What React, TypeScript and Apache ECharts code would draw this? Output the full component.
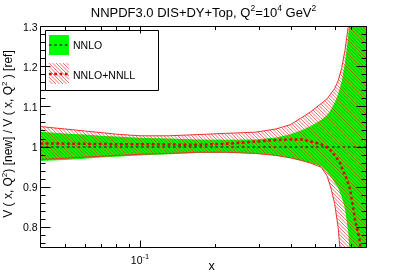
import React, { useEffect, useRef } from 'react';
import * as echarts from 'echarts';

const FONT = "'Liberation Sans', Arial, Helvetica, sans-serif";

// axis ranges
const xRange = [0.04, 0.805];
const yRange = [0.75, 1.3];

// NNLO band (green)
const nnloX = [0.04, 0.05, 0.06, 0.07, 0.08, 0.1, 0.13, 0.17, 0.22, 0.29, 0.35, 0.4, 0.44, 0.48, 0.53, 0.56, 0.58, 0.6, 0.62, 0.64, 0.66, 0.68, 0.7, 0.72, 0.75, 0.805];
const nnloHigh = [1.038, 1.034, 1.031, 1.028, 1.026, 1.023, 1.021, 1.019, 1.018, 1.019, 1.024, 1.032, 1.041, 1.052, 1.067, 1.08, 1.093, 1.11, 1.132, 1.162, 1.21, 1.275, 1.36, 1.45, 1.6, 1.8];
const nnloLow = [0.965, 0.968, 0.971, 0.974, 0.976, 0.979, 0.982, 0.985, 0.986, 0.984, 0.979, 0.973, 0.966, 0.961, 0.952, 0.938, 0.925, 0.912, 0.898, 0.877, 0.847, 0.79, 0.66, 0.55, 0.45, 0.3];
const nnloCentralX = [0.04, 0.805];
const nnloCentral = [1, 1];

// NNLO+NNLL band (red hatched)
const nnllX = [0.04, 0.05, 0.06, 0.07, 0.08, 0.1, 0.13, 0.17, 0.22, 0.29, 0.35, 0.4, 0.44, 0.48, 0.53, 0.56, 0.58, 0.6, 0.62, 0.64, 0.66, 0.68, 0.7, 0.72, 0.75, 0.805];
const nnllHigh = [1.051, 1.045, 1.04, 1.036, 1.032, 1.028, 1.028, 1.031, 1.034, 1.037, 1.045, 1.056, 1.072, 1.087, 1.108, 1.12, 1.133, 1.145, 1.165, 1.195, 1.24, 1.298, 1.4, 1.5, 1.65, 1.9];
const nnllLow = [0.969, 0.972, 0.975, 0.977, 0.979, 0.982, 0.984, 0.987, 0.987, 0.984, 0.979, 0.973, 0.967, 0.96, 0.95, 0.928, 0.898, 0.86, 0.8, 0.7, 0.6, 0.5, 0.4, 0.3, 0.2, 0.1];
const nnllCentralX = [0.04, 0.06, 0.08, 0.11, 0.14, 0.175, 0.22, 0.28, 0.34, 0.4, 0.443, 0.494, 0.532, 0.575, 0.603, 0.631, 0.65, 0.671, 0.692, 0.714, 0.724, 0.74, 0.754, 0.763, 0.775];
const nnllCentral = [1.009, 1.008, 1.007, 1.007, 1.006, 1.006, 1.008, 1.013, 1.017, 1.019, 1.019, 1.012, 1.007, 0.994, 0.978, 0.961, 0.94, 0.92, 0.895, 0.845, 0.82, 0.795, 0.77, 0.75, 0.72];

// ticks
const xMajorTicks = [0.1];
const xMinorTicks = [0.05, 0.06, 0.07, 0.08, 0.09, 0.2, 0.3, 0.4, 0.5, 0.6, 0.7, 0.8];
const yMajorTicks = [0.8, 0.9, 1.0, 1.1, 1.2, 1.3];
const yMinorTicks = [0.76, 0.78, 0.82, 0.84, 0.86, 0.88, 0.92, 0.94, 0.96, 0.98, 1.02, 1.04, 1.06, 1.08, 1.12, 1.14, 1.16, 1.18, 1.22, 1.24, 1.26, 1.28];

const legendLabels = ['NNLO', 'NNLO+NNLL'];

const GREEN = '#00ff00';
const GREEN_DOT = '#1f6f1f';
const RED_DOT = '#e00000';
const RED_LINE = '#f03030';
const HATCH = 'rgba(240,20,20,0.6)';
const HATCH_STEP = 3.5;

type P = number[];

function clipPoly(poly: P[], r: { x: number; y: number; width: number; height: number }): P[] {
  const x0 = r.x, x1 = r.x + r.width, y0 = r.y, y1 = r.y + r.height;
  const edges: [(p: P) => boolean, (a: P, b: P) => P][] = [
    [(p) => p[0] >= x0, (a, b) => { const t = (x0 - a[0]) / (b[0] - a[0]); return [x0, a[1] + t * (b[1] - a[1])]; }],
    [(p) => p[0] <= x1, (a, b) => { const t = (x1 - a[0]) / (b[0] - a[0]); return [x1, a[1] + t * (b[1] - a[1])]; }],
    [(p) => p[1] >= y0, (a, b) => { const t = (y0 - a[1]) / (b[1] - a[1]); return [a[0] + t * (b[0] - a[0]), y0]; }],
    [(p) => p[1] <= y1, (a, b) => { const t = (y1 - a[1]) / (b[1] - a[1]); return [a[0] + t * (b[0] - a[0]), y1]; }],
  ];
  let out = poly;
  for (const [inside, inter] of edges) {
    const inp = out;
    out = [];
    if (!inp.length) break;
    for (let i = 0; i < inp.length; i++) {
      const cur = inp[i];
      const prev = inp[(i + inp.length - 1) % inp.length];
      const ci = inside(cur), pi = inside(prev);
      if (ci) {
        if (!pi) out.push(inter(prev, cur));
        out.push(cur);
      } else if (pi) {
        out.push(inter(prev, cur));
      }
    }
  }
  return out;
}

function hatchSegments(poly: P[], step: number): number[][] {
  let dmin = Infinity, dmax = -Infinity;
  poly.forEach(([x, y]) => { const d = y - x; if (d < dmin) dmin = d; if (d > dmax) dmax = d; });
  const segs: number[][] = [];
  const n = poly.length;
  for (let c = Math.ceil(dmin / step) * step; c <= dmax; c += step) {
    const xs: number[] = [];
    for (let i = 0; i < n; i++) {
      const p = poly[i], q = poly[(i + 1) % n];
      const dp = p[1] - p[0], dq = q[1] - q[0];
      if ((dp <= c && dq > c) || (dq <= c && dp > c)) {
        const s = (c - dp) / (dq - dp);
        xs.push(p[0] + s * (q[0] - p[0]));
      }
    }
    xs.sort((a, b) => a - b);
    for (let k = 0; k + 1 < xs.length; k += 2) segs.push([xs[k], xs[k] + c, xs[k + 1], xs[k + 1] + c]);
  }
  return segs;
}

function hatchLines(poly: P[]) {
  return hatchSegments(poly, HATCH_STEP).map((s) => ({
    type: 'line',
    shape: { x1: s[0], y1: s[1], x2: s[2], y2: s[3] },
    style: { stroke: HATCH, lineWidth: 1 },
    silent: true,
  }));
}

function bandPoly(api: any, xs: number[], lo: number[], hi: number[]): P[] {
  const poly: P[] = [];
  for (let i = 0; i < xs.length; i++) poly.push(api.coord([xs[i], hi[i]]));
  for (let i = xs.length - 1; i >= 0; i--) poly.push(api.coord([xs[i], lo[i]]));
  return poly;
}

function pairs(xs: number[], ys: number[]) {
  return xs.map((x, i) => [x, ys[i]]);
}

const textStyle = (size: number) => ({ fontSize: size, fontFamily: FONT, fill: '#000', color: '#000' });

export default function App() {
  const ref = useRef<HTMLDivElement>(null);
  useEffect(() => {
    if (!ref.current) return;
    const chart = echarts.init(ref.current, undefined, { renderer: 'svg' });

    const legendHatchPoly: P[] = [[49, 63], [69, 63], [69, 84], [49, 84]];

    const option: any = {
      animation: false,
      grid: { left: 40.5, top: 26.5, width: 326, height: 221, show: false, containLabel: false, outerBoundsMode: 'none' },
      xAxis: {
        type: 'log', logBase: 10, min: xRange[0], max: xRange[1],
        axisLine: { show: false }, axisTick: { show: false }, axisLabel: { show: false }, splitLine: { show: false },
      },
      yAxis: {
        type: 'value', min: yRange[0], max: yRange[1], interval: 0.05,
        axisLine: { show: false }, axisTick: { show: false }, splitLine: { show: false },
        axisLabel: {
          color: '#000', fontSize: 10.5, fontFamily: FONT, margin: 3,
          formatter: (v: number) => {
            const r = Math.round(v * 10);
            if (Math.abs(v * 10 - r) > 1e-6) return '';
            return String(r / 10);
          },
        },
      },
      series: [
        {
          type: 'custom', coordinateSystem: 'cartesian2d', silent: true, z: 1,
          data: [[0.1, 1]],
          renderItem: (params: any, api: any) => {
            const poly = clipPoly(bandPoly(api, nnloX, nnloLow, nnloHigh), params.coordSys);
            return { type: 'polygon', shape: { points: poly }, style: { fill: GREEN, stroke: 'none' } };
          },
        },
        {
          type: 'custom', coordinateSystem: 'cartesian2d', silent: true, z: 2,
          data: [[0.1, 1]],
          renderItem: (params: any, api: any) => {
            const poly = clipPoly(bandPoly(api, nnllX, nnllLow, nnllHigh), params.coordSys);
            return { type: 'group', children: hatchLines(poly) };
          },
        },
        {
          type: 'line', z: 3, silent: true, showSymbol: false, symbol: 'none',
          data: pairs(nnllX, nnllHigh),
          lineStyle: { color: RED_LINE, width: 1 },
        },
        {
          type: 'line', z: 3, silent: true, showSymbol: false, symbol: 'none',
          data: pairs(nnllX, nnllLow),
          lineStyle: { color: RED_LINE, width: 1 },
        },
        {
          type: 'line', z: 4, silent: true, showSymbol: false, symbol: 'none',
          data: pairs(nnloCentralX, nnloCentral),
          lineStyle: { color: GREEN_DOT, width: 2, type: [2.5, 2.8] },
        },
        {
          type: 'line', z: 5, silent: true, showSymbol: false, symbol: 'none',
          data: pairs(nnllCentralX, nnllCentral),
          lineStyle: { color: RED_DOT, width: 2.5, type: [2.7, 2.6] },
        },
        {
          type: 'custom', coordinateSystem: 'cartesian2d', silent: true, z: 6,
          data: [[0.1, 1]],
          renderItem: (params: any, api: any) => {
            const cs = params.coordSys;
            const left = cs.x, top = cs.y, right = cs.x + cs.width, bottom = cs.y + cs.height;
            const ch: any[] = [];
            const ln = (x1: number, y1: number, x2: number, y2: number) =>
              ch.push({ type: 'line', shape: { x1, y1, x2, y2 }, style: { stroke: '#000', lineWidth: 1 } });
            const addX = (v: number, len: number) => {
              const px = Math.round(api.coord([v, 1])[0]) + 0.5;
              ln(px, bottom, px, bottom - len);
              ln(px, top, px, top + len);
            };
            const addY = (v: number, len: number) => {
              const py = Math.round(api.coord([0.1, v])[1] - 0.5) + 0.5;
              ln(left, py, left + len, py);
              ln(right, py, right - len, py);
            };
            xMajorTicks.forEach((v) => addX(v, 7));
            xMinorTicks.forEach((v) => addX(v, 3.5));
            yMajorTicks.forEach((v) => addY(v, 10));
            yMinorTicks.forEach((v) => addY(v, 5));
            ch.push({ type: 'rect', shape: { x: left, y: top, width: cs.width, height: cs.height }, style: { fill: 'none', stroke: '#000', lineWidth: 1 } });
            xMajorTicks.forEach((v) => {
              const px = api.coord([v, 1])[0];
              ch.push({
                type: 'text', x: px, y: bottom + 12,
                style: {
                  text: '{b|10}{s|-1}', align: 'center', verticalAlign: 'middle', textAlign: 'center', textVerticalAlign: 'middle',
                  rich: {
                    b: { fontSize: 10.5, fontFamily: FONT, color: '#000', lineHeight: 14, verticalAlign: 'middle' },
                    s: { fontSize: 7.5, fontFamily: FONT, color: '#000', lineHeight: 14, verticalAlign: 'top' },
                  },
                },
              });
            });
            return { type: 'group', children: ch };
          },
        },
      ],
      graphic: [
        {
          type: 'text', x: 203.5, y: 12,
          style: {
            text: '{n|NNPDF3.0 DIS+DY+Top, Q}{s|2}{n|=10}{s|4}{n| GeV}{s|2}',
            align: 'center', verticalAlign: 'middle', textAlign: 'center', textVerticalAlign: 'middle',
            rich: {
              n: { fontSize: 13, fontFamily: FONT, color: '#000', lineHeight: 17, verticalAlign: 'middle' },
              s: { fontSize: 8.5, fontFamily: FONT, color: '#000', lineHeight: 17, verticalAlign: 'top' },
            },
          },
        },
        {
          type: 'text', x: 8, y: 134, rotation: Math.PI / 2,
          style: {
            text: '{n|V ( x, Q}{s|2}{n|) [new] / V ( x, Q}{s|2}{n| ) [ref]}',
            align: 'center', verticalAlign: 'middle', textAlign: 'center', textVerticalAlign: 'middle',
            rich: {
              n: { fontSize: 12, fontFamily: FONT, color: '#000', lineHeight: 16, verticalAlign: 'middle' },
              s: { fontSize: 8, fontFamily: FONT, color: '#000', lineHeight: 16, verticalAlign: 'top' },
            },
          },
        },
        {
          type: 'text', x: 211.7, y: 266,
          style: { text: 'x', ...textStyle(12.5), align: 'center', verticalAlign: 'middle', textAlign: 'center', textVerticalAlign: 'middle' },
        },
        {
          type: 'group',
          children: [
            { type: 'rect', shape: { x: 45.5, y: 30.5, width: 113, height: 60 }, style: { fill: '#fff', stroke: '#000', lineWidth: 1 } },
            { type: 'rect', shape: { x: 49, y: 35, width: 20, height: 20 }, style: { fill: GREEN } },
            { type: 'line', shape: { x1: 49, y1: 45, x2: 69, y2: 45 }, style: { stroke: GREEN_DOT, lineWidth: 2, lineDash: [2.5, 2.8] } },
            ...hatchLines(legendHatchPoly),
            { type: 'line', shape: { x1: 49, y1: 74, x2: 69, y2: 74 }, style: { stroke: RED_DOT, lineWidth: 2.5, lineDash: [2.7, 2.6] } },
            { type: 'text', x: 73, y: 45, style: { text: legendLabels[0], ...textStyle(10.5), align: 'left', verticalAlign: 'middle', textAlign: 'left', textVerticalAlign: 'middle' } },
            { type: 'text', x: 73, y: 74.5, style: { text: legendLabels[1], ...textStyle(10.5), align: 'left', verticalAlign: 'middle', textAlign: 'left', textVerticalAlign: 'middle' } },
          ],
        },
      ],
    };
    chart.setOption(option);
    return () => chart.dispose();
  }, []);
  return <div ref={ref} style={{ position: 'fixed', left: 0, top: 0, width: 407, height: 276 }} />;
}
